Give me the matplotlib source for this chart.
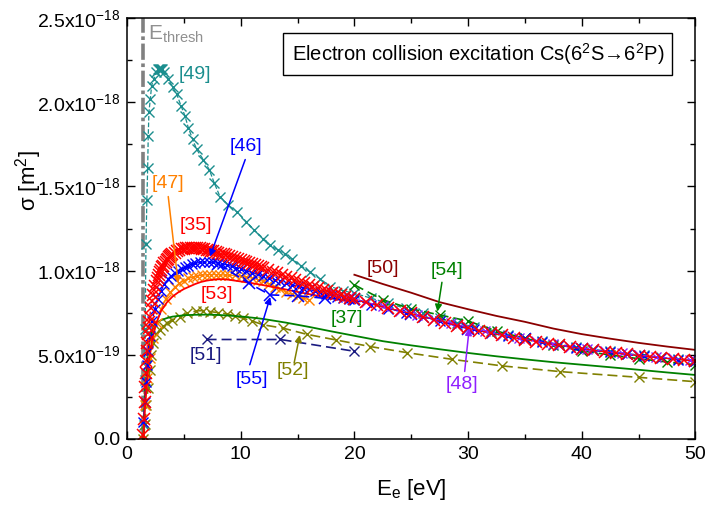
import numpy as np
import matplotlib
matplotlib.use('Agg')
import matplotlib.pyplot as plt
from matplotlib.ticker import MultipleLocator

plt.rcParams['font.family'] = ['Liberation Sans', 'DejaVu Sans']
plt.rcParams['mathtext.fontset'] = 'custom'
plt.rcParams['mathtext.rm'] = 'Liberation Sans'
plt.rcParams['mathtext.it'] = 'Liberation Sans:italic'
plt.rcParams['mathtext.bf'] = 'Liberation Sans:bold'

# cross sections in units of 1e-18 m^2, energies in eV
E_THRESH = 1.43

e35 = [1.45, 1.5, 1.55, 1.6, 1.65, 1.7, 1.75, 1.8, 1.85, 1.9, 1.95, 2.0,
       2.1, 2.2, 2.3, 2.4, 2.5, 2.6, 2.7, 2.8, 2.9, 3.0, 3.1, 3.2, 3.3, 3.4,
       3.5, 3.6, 3.7, 3.8, 3.9, 4.0, 4.2, 4.4, 4.6, 4.8, 5.0, 5.2, 5.4, 5.6,
       5.8, 6.0, 6.2, 6.4, 6.6, 6.8, 7.0, 7.2, 7.4, 7.6, 7.8, 8.0, 8.25, 8.5,
       8.75, 9.0, 9.25, 9.5, 9.75, 10.0, 10.25, 10.5, 10.75, 11.0, 11.25,
       11.5, 11.75, 12.0, 12.4, 12.8, 13.2, 13.6, 14.0, 14.4, 14.8, 15.2,
       15.6, 16.0, 16.4, 16.8, 17.2, 17.6, 18.0, 18.4, 18.8, 19.2, 19.6, 20.0,
       21, 22, 23, 24, 25, 26, 27, 28, 29, 30, 31, 32, 33, 34, 35, 36, 37,
       38, 39, 40, 41, 42, 43, 44, 45, 46, 47, 48, 49, 50]
s35 = [0.02, 0.12, 0.22, 0.31, 0.39, 0.46, 0.52, 0.57, 0.62, 0.66, 0.695,
       0.725, 0.78, 0.82, 0.855, 0.885, 0.91, 0.935, 0.955, 0.975, 0.99,
       1.005, 1.02, 1.03, 1.042, 1.052, 1.062, 1.07, 1.078, 1.085, 1.092,
       1.098, 1.107, 1.115, 1.121, 1.126, 1.13, 1.133, 1.135, 1.136, 1.136,
       1.135, 1.134, 1.132, 1.13, 1.127, 1.124, 1.121, 1.118, 1.114, 1.11,
       1.106, 1.101, 1.096, 1.09, 1.085, 1.079, 1.073, 1.067, 1.061, 1.055,
       1.049, 1.043, 1.037, 1.031, 1.025, 1.019, 1.013, 1.003, 0.993, 0.983,
       0.973, 0.963, 0.953, 0.943, 0.933, 0.924, 0.914, 0.905, 0.896, 0.887,
       0.878, 0.869, 0.86, 0.852, 0.844, 0.836, 0.828, 0.81, 0.793, 0.776,
       0.76, 0.745, 0.725, 0.708, 0.69, 0.673, 0.657, 0.642, 0.628, 0.614,
       0.601, 0.589, 0.577, 0.566, 0.555, 0.545, 0.535, 0.526, 0.517, 0.509,
       0.501, 0.494, 0.487, 0.48, 0.474, 0.468, 0.462]

e46 = [1.45, 1.55, 1.65, 1.75, 1.85, 2.0, 2.2, 2.45, 2.7, 3.0, 3.3, 3.6,
       3.9, 4.2, 4.5, 4.8, 5.1, 5.4, 5.7, 6.0, 6.4, 6.8, 7.2, 7.6, 8.0, 8.4,
       8.8, 9.2, 9.6, 10.0, 10.5, 11, 11.5, 12, 12.5, 13, 13.5, 14, 14.5, 15,
       15.5, 16, 16.5, 17, 17.5, 18, 18.5, 19, 19.5, 20, 21.5, 23, 24.5, 26,
       27.5, 29, 30.5, 32, 33.5, 35, 36.5, 38, 39.5, 41, 42.5, 44, 45.5, 47,
       48.5, 50]
s46 = [0.1, 0.22, 0.34, 0.44, 0.52, 0.61, 0.7, 0.77, 0.83, 0.88, 0.92,
       0.95, 0.97, 0.985, 0.995, 1.01, 1.02, 1.03, 1.037, 1.043, 1.048,
       1.05, 1.05, 1.048, 1.045, 1.04, 1.033, 1.025, 1.017, 1.008, 0.998,
       0.988, 0.978, 0.967, 0.957, 0.946, 0.936, 0.926, 0.916, 0.906, 0.897,
       0.888, 0.879, 0.87, 0.861, 0.853, 0.845, 0.837, 0.83, 0.822, 0.798,
       0.774, 0.75, 0.726, 0.701, 0.676, 0.652, 0.631, 0.611, 0.591, 0.573,
       0.556, 0.54, 0.526, 0.513, 0.501, 0.49, 0.48, 0.471, 0.462]

e49 = [1.5, 1.55, 1.6, 1.67, 1.75, 1.82, 1.87, 1.93, 2.05, 2.17, 2.37, 2.55,
       2.7, 2.8, 2.9, 3.0, 3.1, 3.25, 3.63, 4.02, 4.37, 4.75, 5.1, 5.39,
       5.78, 6.13, 6.71, 7.24, 7.68, 8.18, 8.9, 9.65, 10.5, 11.2, 12.0, 12.6,
       13.3, 13.9, 14.5, 15.3, 16.1, 17.0, 17.9, 19.0, 20.0, 21.5, 23, 24.5,
       26, 27.5, 29, 30.5, 32, 33.5, 35, 36.5, 38, 39.5, 41, 42.5, 44, 45.5,
       47, 48.5, 50]
s49 = [0.08, 0.35, 0.65, 1.16, 1.42, 1.61, 1.8, 1.94, 2.02, 2.1, 2.14, 2.18,
       2.2, 2.2, 2.2, 2.2, 2.2, 2.18, 2.14, 2.09, 2.05, 1.98, 1.92, 1.85,
       1.78, 1.72, 1.66, 1.6, 1.52, 1.44, 1.39, 1.35, 1.29, 1.24, 1.19, 1.15,
       1.12, 1.1, 1.07, 1.03, 0.99, 0.95, 0.905, 0.88, 0.865, 0.835, 0.805,
       0.775, 0.745, 0.715, 0.69, 0.665, 0.64, 0.618, 0.598, 0.58, 0.562,
       0.546, 0.532, 0.519, 0.506, 0.495, 0.484, 0.474, 0.464]

e47 = [1.6, 1.8, 2.0, 2.3, 2.6, 3.0, 3.4, 3.8, 4.2, 4.6, 5.0, 5.4, 5.8, 6.2,
       6.6, 7.0, 7.4, 7.8, 8.2, 8.6, 9.0, 9.5, 10.0, 10.5, 11.0, 11.5, 12.0,
       12.5, 13.0, 13.5, 14.0, 14.5, 15.0, 15.5, 16.0]
s47 = [0.2, 0.36, 0.48, 0.6, 0.69, 0.77, 0.83, 0.87, 0.9, 0.925, 0.94,
       0.953, 0.962, 0.968, 0.972, 0.975, 0.976, 0.976, 0.975, 0.973, 0.972,
       0.972, 0.968, 0.962, 0.955, 0.946, 0.935, 0.922, 0.905, 0.888, 0.872,
       0.858, 0.846, 0.836, 0.827]

e53 = [1.43, 1.6, 1.8, 2.0, 2.3, 2.6, 3.0, 3.5, 4.0, 4.5, 5.0, 5.5, 6.0,
       6.5, 7.0, 7.5, 8.0, 8.5, 9.0, 10, 11, 12, 13, 14, 15, 16, 17, 18, 19,
       20]
s53 = [0.0, 0.2, 0.38, 0.5, 0.62, 0.69, 0.76, 0.81, 0.845, 0.87, 0.89,
       0.905, 0.92, 0.932, 0.94, 0.945, 0.948, 0.948, 0.945, 0.935, 0.925,
       0.913, 0.9, 0.887, 0.873, 0.86, 0.847, 0.835, 0.822, 0.81]

e37 = [1.43, 1.6, 1.8, 2.0, 2.3, 2.6, 3.0, 3.5, 4, 5, 6, 7, 8, 9, 10, 11,
       12, 14, 16, 18, 20, 22.5, 25, 27.5, 30, 32.5, 35, 37.5, 40, 42.5, 45,
       47.5, 50]
s37 = [0.0, 0.3, 0.48, 0.58, 0.665, 0.69, 0.705, 0.717, 0.726, 0.734, 0.737,
       0.738, 0.736, 0.732, 0.727, 0.72, 0.712, 0.69, 0.665, 0.638, 0.612,
       0.58, 0.555, 0.532, 0.51, 0.49, 0.472, 0.455, 0.44, 0.425, 0.41,
       0.394, 0.379]

e52 = [1.45, 1.58, 1.7, 1.85, 2.0, 2.15, 2.3, 2.55, 2.9, 3.2, 3.5, 4.0, 4.66,
       5.3, 6.1, 6.7, 7.3, 8.0, 8.8, 9.5, 10.2, 11.0, 12.0, 13.75, 15.8,
       18.4, 21.4, 24.6, 28.6, 33.0, 38.1, 45.0, 50.0]
s52 = [0.0, 0.09, 0.2, 0.3, 0.41, 0.5, 0.57, 0.62, 0.647, 0.67, 0.687,
       0.705, 0.726, 0.745, 0.76, 0.762, 0.756, 0.75, 0.742, 0.73, 0.717,
       0.7, 0.677, 0.657, 0.621, 0.587, 0.548, 0.512, 0.472, 0.433, 0.399,
       0.365, 0.339]

e51 = [7.0, 13.5, 20.0]
s51 = [0.59, 0.59, 0.52]

e50 = [20, 22.5, 25, 27.5, 30, 32.5, 35, 37.5, 40, 42.5, 45, 47.5, 50]
s50 = [0.975, 0.92, 0.868, 0.812, 0.77, 0.73, 0.695, 0.655, 0.622, 0.595,
       0.57, 0.548, 0.528]

e54 = [20, 22.5, 25, 27.5, 30, 32.5, 35, 37.5, 40, 42.5, 45, 47.5, 50]
s54 = [0.915, 0.826, 0.772, 0.736, 0.7, 0.64, 0.597, 0.557, 0.522, 0.498,
       0.476, 0.456, 0.44]

e48 = [18, 19.5, 21, 22.5, 24, 25.5, 27, 28.5, 30, 31.5, 33, 34.5, 36, 37.5,
       39, 40.5, 42, 43.5, 45, 46.5, 48, 49.5]
s48 = [0.87, 0.842, 0.812, 0.787, 0.762, 0.738, 0.713, 0.688, 0.662, 0.638,
       0.617, 0.597, 0.579, 0.562, 0.547, 0.533, 0.52, 0.508, 0.497, 0.487,
       0.478, 0.468]

e55 = [8.0, 10.7, 12.6, 15.0, 17.4, 20.0, 25, 30, 35, 40, 45, 50]
s55 = [1.04, 0.925, 0.855, 0.85, 0.835, 0.83, 0.74, 0.655, 0.59, 0.535,
       0.494, 0.462]

yticks = [0.0, 0.5, 1.0, 1.5, 2.0, 2.5]
ytick_labels = ['0.0', '5.0x10$^{-19}$', '1.0x10$^{-18}$', '1.5x10$^{-18}$',
                '2.0x10$^{-18}$', '2.5x10$^{-18}$']

TEAL = '#1b8e8e'
BLUE = '#0000ff'
RED = '#ff0000'
ORANGE = '#ff8000'
GREEN = '#008000'
OLIVE = '#808000'
NAVY = '#1a1a80'
DRED = '#8b0000'
PURPLE = '#8f1fff'

fig = plt.figure(figsize=(7.07, 5.07), dpi=100)
ax = fig.add_axes([0.1796, 0.1347, 0.8041, 0.8292])

ax.axvline(E_THRESH, color='#808080', lw=2.6, ls=(0, (4.5, 1.0, 1.0, 1.0)), zorder=1)

ax.plot(e49, s49, color=TEAL, ls='--', lw=0.9, marker='x', ms=7, mew=1.0)
ax.plot(e52, s52, color=OLIVE, ls='--', lw=1.2, dashes=(6, 3), marker='x', ms=7, mew=1.0)
ax.plot(e37, s37, color=GREEN, ls='-', lw=1.3)
ax.plot(e51, s51, color=NAVY, ls='--', lw=1.2, dashes=(6, 3), marker='x', ms=7, mew=1.0)
ax.plot(e50, s50, color=DRED, ls='-', lw=1.3)
ax.plot(e54, s54, color=GREEN, ls='--', lw=1.2, dashes=(6, 3), marker='x', ms=7, mew=1.0)
ax.plot(e47, s47, color=ORANGE, ls='-', lw=0.9, marker='x', ms=7, mew=1.0)
ax.plot(e53, s53, color=RED, ls='-', lw=1.3)
ax.plot(e55, s55, color=BLUE, ls='--', lw=1.2, dashes=(6, 3), marker='x', ms=8, mew=1.1)
ax.plot(e46, s46, color=BLUE, ls='--', lw=0.9, marker='x', ms=7, mew=1.0)
ax.plot(e48, s48, color=PURPLE, ls='--', lw=0.9, marker='x', ms=7, mew=1.0)
ax.plot(e35, s35, color=RED, ls='--', lw=0.9, marker='x', ms=8.5, mew=1.1)

# reference labels and pointers
fs = 14
ax.text(6.0, 2.165, '[49]', color=TEAL, fontsize=fs, ha='center', va='center')
ax.text(10.5, 1.735, '[46]', color=BLUE, fontsize=fs, ha='center', va='center')
ax.text(3.6, 1.52, '[47]', color=ORANGE, fontsize=fs, ha='center', va='center')
ax.text(6.07, 1.265, '[35]', color=RED, fontsize=fs, ha='center', va='center')
ax.text(7.9, 0.855, '[53]', color=RED, fontsize=fs, ha='center', va='center')
ax.text(11.0, 0.35, '[55]', color=BLUE, fontsize=fs, ha='center', va='center')
ax.text(6.95, 0.497, '[51]', color=NAVY, fontsize=fs, ha='center', va='center')
ax.text(14.6, 0.408, '[52]', color=OLIVE, fontsize=fs, ha='center', va='center')
ax.text(19.35, 0.717, '[37]', color=GREEN, fontsize=fs, ha='center', va='center')
ax.text(22.5, 1.015, '[50]', color=DRED, fontsize=fs, ha='center', va='center')
ax.text(28.1, 1.003, '[54]', color=GREEN, fontsize=fs, ha='center', va='center')
ax.text(29.5, 0.32, '[48]', color=PURPLE, fontsize=fs, ha='center', va='center')

arrows = [
    ((10.4, 1.66), (7.3, 1.083), BLUE),
    ((3.63, 1.44), (4.5, 0.925), ORANGE),
    ((10.8, 0.44), (12.6, 0.843), BLUE),
    ((14.7, 0.45), (15.2, 0.617), OLIVE),
    ((27.7, 0.93), (27.3, 0.756), GREEN),
    ((29.7, 0.40), (30.1, 0.657), PURPLE),
]
for tail, head, c in arrows:
    ax.annotate('', xy=head, xytext=tail,
                arrowprops=dict(arrowstyle='-|>', color=c, lw=1.1,
                                mutation_scale=10, shrinkA=0, shrinkB=0))

ax.text(1.85, 2.373, r'E$_{\rm thresh}$', color='#909090', fontsize=15,
        ha='left', va='baseline')

ax.text(0.617, 0.914, 'Electron collision excitation Cs(6$^2$S→6$^2$P)',
        transform=ax.transAxes, fontsize=14.5, ha='center', va='center',
        bbox=dict(boxstyle='square,pad=0.4', fc='white', ec='black', lw=1.0))

ax.set_xlim(0, 50)
ax.set_ylim(0, 2.5)
ax.xaxis.set_major_locator(MultipleLocator(10))
ax.xaxis.set_minor_locator(MultipleLocator(5))
ax.set_yticks(yticks)
ax.set_yticklabels(ytick_labels)
ax.yaxis.set_minor_locator(MultipleLocator(0.25))
ax.tick_params(which='both', direction='in', top=True, right=True,
               labelsize=14, width=1.0, pad=5)
ax.tick_params(which='major', length=6)
ax.tick_params(which='minor', length=3.5)
for sp in ax.spines.values():
    sp.set_linewidth(1.1)

ax.set_xlabel('E$_{\\rm e}$ [eV]', fontsize=16, va='center')
ax.set_ylabel('σ [m$^2$]', fontsize=16, va='center')
ax.xaxis.set_label_coords(0.5, -0.12)
ax.yaxis.set_label_coords(-0.174, 0.613)

fig.savefig('out.png', dpi=100)
